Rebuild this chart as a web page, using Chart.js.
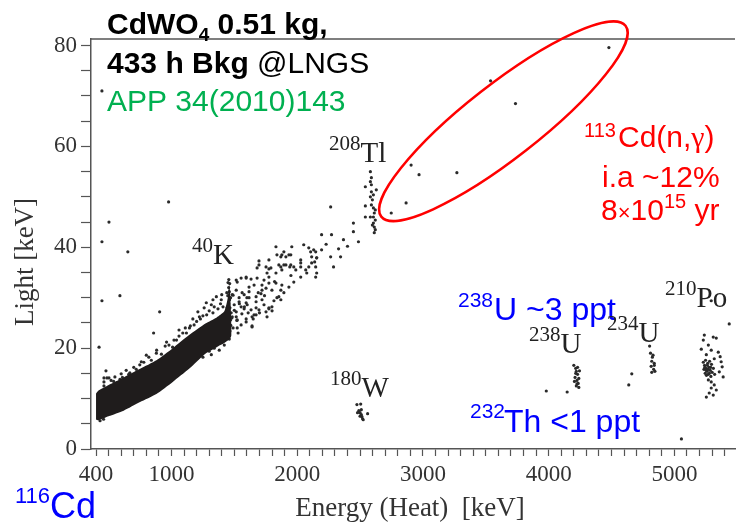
<!DOCTYPE html>
<html>
<head>
<meta charset="utf-8">
<script src="https://cdn.jsdelivr.net/npm/chart.js@4.4.1/dist/chart.umd.min.js"></script>
<style>
  body { margin: 0; background: #fff; overflow: hidden; }
  canvas { display: block; }
</style>
</head>
<body>
<canvas id="chart" width="739" height="522"></canvas>
<script>
// axis labels
const xLabels = [400, 1000, 2000, 3000, 4000, 5000];
const yLabels = [0, 20, 40, 60, 80];

// dense band (energy, upper / lower light edge)
const bandE  = [400, 420, 500, 620, 750, 880, 1010, 1140, 1270, 1360, 1420, 1448, 1458, 1466, 1478];
const bandHi = [11.0, 11.6, 12.7, 14.2, 15.9, 17.6, 20.0, 22.6, 24.9, 26.1, 27.3, 30.0, 32.6, 31.2, 24.4];
const bandLo = [5.8, 5.7, 6.5, 7.6, 9.3, 10.9, 13.3, 15.9, 18.9, 20.2, 21.0, 21.5, 21.7, 21.9, 22.5];

// points around the band edges
const bandFringe = [
  [463, 14.1], [487, 14.1], [479, 15.5], [463, 13.3], [503, 14.1], [463, 12.5],
  [520, 13.6], [550, 14.3], [600, 14.9], [640, 15.6], [700, 16.2], [760, 17.3],
  [820, 18.2], [880, 19.0], [950, 20.4], [1020, 21.6], [1090, 23.0], [1150, 24.4],
  [1200, 25.3], [1250, 26.4], [1300, 27.4], [1340, 28.2], [1390, 28.8],
  [1357, 30.2], [1317, 28.6], [1277, 29.0], [1396, 29.6], [1222, 26.2], [1143, 24.0],
  [1119, 23.0], [1040, 21.6], [961, 21.2], [1009, 20.2], [882, 19.6], [748, 16.7],
  [669, 15.1], [566, 13.1],
  [1060, 22.4], [1110, 24.0], [1180, 24.6], [1230, 25.8], [1280, 26.6], [1330, 27.0],
  [1370, 27.8], [1410, 28.2], [1400, 30.6], [1330, 29.6], [1260, 28.0], [1170, 25.8],
  [920, 18.8], [980, 20.6], [840, 17.6], [780, 17.2], [720, 15.8], [660, 14.8],
  [610, 14.2], [540, 13.4], [590, 13.8], [800, 18.6], [1060, 23.6], [1210, 27.2],
  [432, 5.6], [511, 7.0], [613, 8.9], [748, 11.5], [906, 14.0], [1064, 16.6],
  [1262, 20.0], [1317, 18.7], [1436, 21.8], [460, 5.9], [560, 7.6], [680, 9.8],
  [820, 12.2], [980, 14.8], [1150, 18.0], [1200, 18.4], [1380, 19.6], [1420, 20.6],
  [1100, 16.8], [1300, 19.4], [1340, 20.0], [900, 12.6], [700, 9.4], [1250, 18.2]
];

// 40K line
const k40Pts = [
  [1450, 33.0], [1455, 32.0], [1460, 31.2], [1448, 30.4], [1462, 29.6], [1455, 28.8],
  [1465, 28.0], [1450, 27.2], [1460, 26.4], [1470, 25.6], [1445, 25.0], [1458, 24.2],
  [1465, 23.4], [1452, 22.6], [1460, 21.8], [1440, 31.0], [1470, 30.0], [1442, 28.0],
  [1475, 27.0], [1438, 26.0], [1472, 24.5], [1456, 33.6], [1463, 32.8]
];

// continuum between 40K and 208Tl
const contPts = [
  [1459, 24.0], [1515, 26.2], [1523, 24.0], [1594, 25.2], [1641, 24.2], [1673, 28.0],
  [1657, 26.6], [1720, 29.6], [1775, 28.0], [1839, 30.0], [1870, 31.5], [1831, 32.9],
  [1720, 31.5], [1617, 32.1], [1523, 33.1], [1562, 31.0], [1594, 33.9], [1681, 33.9],
  [1760, 34.9], [1878, 35.5], [1910, 36.5], [1854, 36.5], [1791, 35.9], [1696, 36.5],
  [1500, 27.5], [1520, 25.5], [1540, 28.8], [1490, 30.5], [1560, 26.8], [1580, 28.2],
  [1610, 27.0], [1490, 24.0], [1530, 23.0], [1480, 26.0], [1600, 30.0], [1650, 25.8],
  [1700, 27.0], [1760, 26.2], [1800, 27.4], [1641, 24.4],
  [1696, 37.3], [1775, 37.5], [1870, 38.1], [1910, 38.1], [1752, 36.1], [1775, 35.7],
  [1941, 36.1], [1973, 36.1], [2028, 36.1], [2092, 36.1], [2139, 37.1], [2076, 34.9],
  [2155, 34.9], [2147, 34.1], [1681, 35.9], [1594, 34.1], [1633, 33.7], [1554, 33.9],
  [1515, 33.5], [1657, 32.5], [1736, 33.5], [1775, 32.9], [1878, 32.5], [1752, 31.9],
  [1799, 31.5], [1712, 30.8], [1673, 30.2], [1617, 31.2], [1578, 30.6], [1538, 30.0],
  [1594, 29.0], [1673, 29.2], [1870, 29.6], [1815, 29.4], [1633, 27.6], [1673, 26.6],
  [1752, 27.2], [1775, 27.8],
  [1515, 31.5], [1483, 30.6], [1538, 29.2], [1554, 28.2], [1578, 27.8], [1602, 28.6],
  [1617, 30.0], [1499, 28.6], [1515, 27.2], [1483, 26.2], [1523, 25.6], [1554, 24.6],
  [1594, 25.8], [1641, 26.2], [1696, 27.6], [1736, 28.6], [1799, 28.2], [1854, 30.2],
  [1894, 31.0], [1934, 32.1], [1973, 33.1], [2028, 34.1], [2068, 35.5], [2115, 36.9],
  [2155, 37.9], [1989, 35.5], [2028, 37.5], [1949, 38.5], [1894, 39.1], [1831, 34.9],
  [1775, 34.1], [1720, 32.5], [1690, 31.0], [1740, 30.4], [1820, 33.2], [1950, 34.4],
  [1831, 40.1], [1839, 38.5], [1878, 38.5], [1870, 36.1], [1894, 36.5], [1934, 38.5],
  [1957, 40.1], [1949, 36.5], [2028, 36.9], [2052, 40.5], [2092, 39.9], [2107, 39.1],
  [2131, 39.5], [2115, 38.1], [2155, 37.9], [2147, 36.1], [2194, 39.5], [2194, 42.5],
  [2266, 38.1], [2273, 42.5], [2289, 36.1], [2345, 38.1], [2329, 39.7], [2368, 41.5],
  [2447, 43.1], [2447, 44.8], [2487, 41.1], [2147, 39.1], [2230, 40.6], [2400, 40.2]
];

// 208Tl line
const tlPts = [
  [2582, 55.0], [2582, 53.0], [2590, 52.4], [2542, 52.0], [2590, 51.0], [2606, 50.4],
  [2582, 50.0], [2542, 48.2], [2590, 48.4], [2606, 47.8], [2621, 47.4], [2582, 46.0],
  [2606, 46.0], [2621, 45.4], [2606, 44.8], [2613, 44.0], [2621, 43.5], [2613, 42.9],
  [2542, 46.0], [2629, 51.4], [2598, 49.4], [2613, 46.8], [2598, 44.4], [2590, 53.8]
];

// 113Cd(n,gamma) events
const cdPts = [
  [4479, 79.6], [3538, 73.0], [3736, 68.5], [2906, 56.3], [2969, 54.4], [3270, 54.8],
  [2866, 48.8], [2748, 46.8]
];

// alpha peaks
const w180Pts = [
  [2475, 8.8], [2505, 8.9], [2490, 7.6], [2500, 7.2], [2510, 6.8], [2515, 6.4],
  [2520, 6.0], [2525, 5.8], [2560, 7.0], [2500, 6.5], [2510, 7.8], [2480, 7.2]
];
const u238Pts = [
  [4200, 16.6], [4215, 16.0], [4220, 15.4], [4230, 14.8], [4210, 14.2], [4225, 13.6],
  [4235, 13.0], [4220, 12.5], [4240, 12.2], [4215, 15.0], [4240, 14.0], [4205, 13.4],
  [4230, 16.2], [4245, 15.5], [4225, 12.9]
];
const u234Pts = [
  [4803, 20.4], [4810, 19.0], [4825, 18.2], [4820, 17.4], [4840, 17.0], [4815, 16.4],
  [4835, 15.8], [4820, 15.2], [4845, 15.4], [4830, 18.6], [4840, 16.6]
];
const po210Pts = [
  [5238, 22.6], [5309, 22.2], [5333, 22.0], [5230, 21.6], [5270, 20.6], [5214, 19.8],
  [5293, 19.6], [5349, 19.2], [5254, 18.7], [5364, 18.3], [5317, 17.9], [5372, 17.3],
  [5380, 16.3], [5357, 15.3], [5388, 14.3], [5293, 13.3], [5317, 12.7], [5293, 12.1],
  [5333, 11.7], [5277, 11.1], [5309, 10.7], [5254, 10.3], [5270, 13.7],
  [5230, 17.2], [5240, 16.6], [5250, 16.0], [5260, 15.4], [5245, 15.0], [5265, 17.0],
  [5275, 16.2], [5285, 15.6], [5255, 14.6], [5270, 14.8], [5235, 15.8], [5280, 17.4],
  [5295, 16.8], [5300, 15.2], [5290, 14.4], [5262, 16.6], [5248, 17.6], [5310, 16.0],
  [5252, 15.6], [5268, 15.8], [5278, 15.0], [5242, 16.2], [5288, 16.2], [5320, 14.8]
];

// isolated events
const isolatedPts = [
  [447, 71.0], [977, 49.0], [503, 45.0], [447, 41.1], [653, 39.1], [590, 30.4],
  [447, 29.4], [906, 27.2], [858, 23.0], [424, 20.2], [2266, 48.0], [5056, 2.0],
  [5436, 24.8], [5293, 29.4], [3981, 11.5], [4147, 11.3], [4661, 14.9], [4637, 12.7]
];

const toXY = arr => arr.map(p => ({ x: p[0], y: p[1] }));
const allPts = [].concat(bandFringe, k40Pts, contPts, tlPts, cdPts, w180Pts,
  u238Pts, u234Pts, po210Pts, isolatedPts);

const SANS = '"Liberation Sans", Arial, sans-serif';
const SERIF = '"Liberation Serif", "Times New Roman", serif';

// draws pieces of text one after the other on the same baseline
function runs(ctx, x, y, parts) {
  parts.forEach(p => {
    ctx.font = p.font;
    ctx.fillStyle = p.color;
    ctx.fillText(p.t, x, y + (p.dy || 0));
    x += ctx.measureText(p.t).width;
  });
}

const annotations = {
  id: 'annotations',
  afterDraw(chart) {
    const ctx = chart.ctx;
    const area = chart.chartArea;
    const xs = chart.scales.x, ys = chart.scales.y;
    ctx.save();

    // top frame line
    ctx.strokeStyle = '#555';
    ctx.lineWidth = 1.5;
    ctx.beginPath();
    ctx.moveTo(area.left, area.top);
    ctx.lineTo(area.right, area.top);
    ctx.stroke();

    // red ellipse around the 113Cd(n,g) events
    ctx.strokeStyle = '#ff0000';
    ctx.lineWidth = 2.5;
    ctx.beginPath();
    ctx.ellipse(xs.getPixelForValue(3640), ys.getPixelForValue(65.0), 155, 37, -38 * Math.PI / 180, 0, 2 * Math.PI);
    ctx.stroke();

    ctx.textBaseline = 'alphabetic';
    ctx.textAlign = 'left';

    // axis titles
    ctx.fillStyle = '#333';
    ctx.font = '27px ' + SERIF;
    ctx.textAlign = 'center';
    ctx.fillText('Energy (Heat)  [keV]', 410, 516);
    ctx.save();
    ctx.translate(33, 262);
    ctx.rotate(-Math.PI / 2);
    ctx.fillText('Light [keV]', 0, 0);
    ctx.restore();
    ctx.textAlign = 'left';

    // header text
    const B30 = 'bold 30px ' + SANS, N30 = '30px ' + SANS;
    runs(ctx, 107, 34, [
      { t: 'CdWO', font: B30, color: '#000' },
      { t: '4', font: 'bold 19px ' + SANS, color: '#000', dy: 7 },
      { t: ' 0.51 kg,', font: B30, color: '#000' }
    ]);
    runs(ctx, 107, 73, [
      { t: '433 h Bkg ', font: B30, color: '#000' },
      { t: '@LNGS', font: N30, color: '#000' }
    ]);
    runs(ctx, 107, 111, [{ t: 'APP 34(2010)143', font: N30, color: '#00b050' }]);

    // red notes
    const red = '#ff0000';
    runs(ctx, 584, 137, [{ t: '113', font: '20px ' + SANS, color: red }]);
    runs(ctx, 618, 147, [
      { t: 'Cd(n,', font: N30, color: red },
      { t: 'γ', font: '30px ' + SERIF, color: red },
      { t: ')', font: N30, color: red }
    ]);
    runs(ctx, 602, 187, [{ t: 'i.a ~12%', font: N30, color: red }]);
    runs(ctx, 601, 220, [
      { t: '8', font: N30, color: red },
      { t: '×', font: '22px ' + SANS, color: red },
      { t: '10', font: N30, color: red },
      { t: '15', font: '20px ' + SANS, color: red, dy: -12 },
      { t: ' yr', font: N30, color: red }
    ]);

    // blue notes
    const blue = '#0000ff';
    runs(ctx, 458, 307, [{ t: '238', font: '21px ' + SANS, color: blue }]);
    runs(ctx, 494, 320, [{ t: 'U ~3 ppt', font: '32px ' + SANS, color: blue }]);
    runs(ctx, 470, 418, [{ t: '232', font: '21px ' + SANS, color: blue }]);
    runs(ctx, 504, 432, [{ t: 'Th <1 ppt', font: '32px ' + SANS, color: blue }]);
    runs(ctx, 15, 503, [{ t: '116', font: '22px ' + SANS, color: blue }]);
    runs(ctx, 50, 518, [{ t: 'Cd', font: '36px ' + SANS, color: blue }]);

    // isotope labels
    const lab = '#222';
    const iso = (x, y, sup, name) => {
      runs(ctx, x, y - 12, [{ t: sup, font: '21px ' + SERIF, color: lab }]);
      ctx.font = '21px ' + SERIF;
      const w = ctx.measureText(sup).width;
      runs(ctx, x + w, y, [{ t: name, font: '29px ' + SERIF, color: lab }]);
    };
    iso(329, 162, '208', 'Tl');
    iso(192, 264, '40', 'K');
    iso(330, 397, '180', 'W');
    iso(529, 353, '238', 'U');
    iso(607, 342, '234', 'U');
    iso(665, 307, '210', 'Po');

    ctx.restore();
  }
};

const tickFont = { family: SERIF, size: 23 };

new Chart(document.getElementById('chart'), {
  type: 'scatter',
  data: {
    datasets: [
      {
        type: 'line',
        data: bandE.map((e, i) => ({ x: e, y: bandLo[i] })),
        borderWidth: 0, pointRadius: 0, fill: false, tension: 0.2
      },
      {
        type: 'line',
        data: bandE.map((e, i) => ({ x: e, y: bandHi[i] })),
        borderWidth: 0, pointRadius: 0, fill: '-1', tension: 0.2,
        backgroundColor: '#1f1c1c'
      },
      {
        data: toXY(allPts),
        pointRadius: 1.6,
        backgroundColor: '#2a2a2a',
        borderWidth: 0
      }
    ]
  },
  options: {
    responsive: false,
    animation: false,
    layout: { padding: { top: 39, right: 0, left: 0, bottom: 0 } },
    plugins: { legend: { display: false }, tooltip: { enabled: false } },
    scales: {
      x: {
        type: 'linear',
        min: 360,
        max: 5482,
        afterFit: s => { s.height = 73; },
        ticks: {
          stepSize: 100,
          autoSkip: false,
          maxRotation: 0,
          minRotation: 0,
          includeBounds: false,
          padding: 5,
          color: '#333',
          font: tickFont,
          callback: v => xLabels.includes(v) ? String(v) : ''
        },
        grid: { drawOnChartArea: false, tickLength: 7, tickColor: '#555', tickWidth: 1.2 },
        border: { color: '#555', width: 1.5 }
      },
      y: {
        min: 0,
        max: 81.3,
        afterFit: s => { s.width = 91; },
        ticks: {
          stepSize: 5,
          autoSkip: false,
          includeBounds: false,
          padding: 4,
          color: '#333',
          font: tickFont,
          callback: v => yLabels.includes(v) ? String(v) : ''
        },
        grid: { drawOnChartArea: false, tickLength: 10, tickColor: '#555', tickWidth: 1.2 },
        border: { color: '#555', width: 1.5 }
      }
    }
  },
  plugins: [annotations]
});
</script>
</body>
</html>
